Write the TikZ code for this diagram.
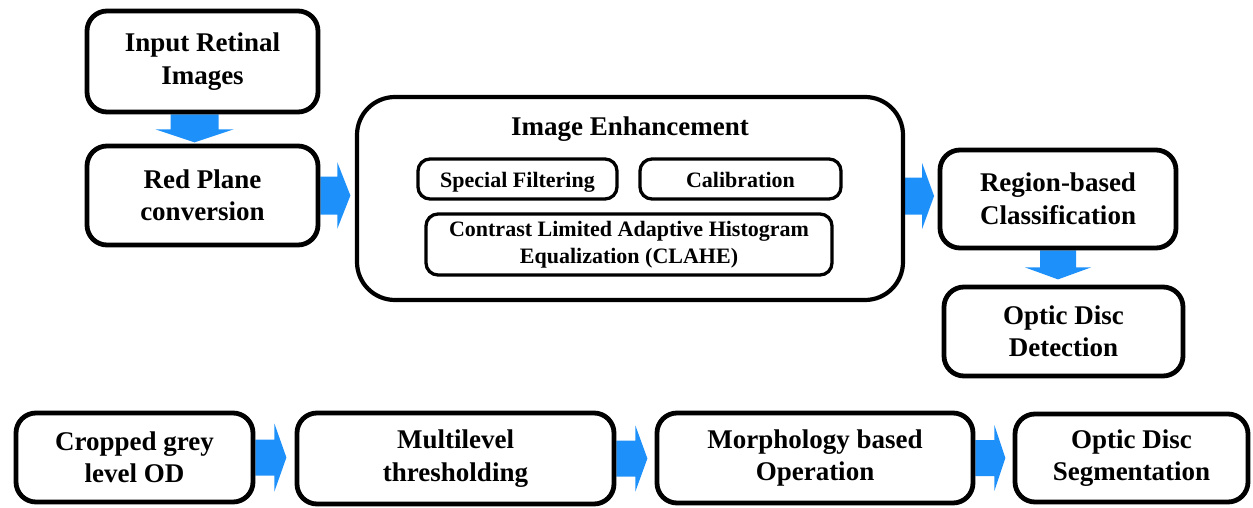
\documentclass[tikz,border=0pt]{standalone}
\usepackage{fontspec}
\setmainfont{Liberation Serif}[BoldFont={Liberation Serif Bold}]
\usetikzlibrary{backgrounds}

\definecolor{flowblue}{RGB}{30,144,250}

% horizontal block arrow: start point, shaft length, head length, shaft half-height, head half-height
\newcommand\blockright[5]{%
  \fill[flowblue] (#1) ++(0,-#4) -- ++(#2,0) -- ++(0,{#4-#5}) -- ++(#3,#5)
    -- ++(-#3,#5) -- ++(0,{#4-#5}) -- ++(-#2,0) -- cycle;}
% vertical block arrow (pointing down): start point, shaft length, head length, shaft half-width, head half-width
\newcommand\blockdown[5]{%
  \fill[flowblue] (#1) ++(-#4,0) -- ++(0,#2) -- ++({#4-#5},0) -- ++(#5,#3)
    -- ++(#5,-#3) -- ++({#4-#5},0) -- ++(0,-#2) -- cycle;}

\begin{document}
\begin{tikzpicture}[x=1pt,y=-1pt,
  stage/.style={draw=black, line width=4.8pt, rounded corners=20pt, fill=white,
    align=center, inner sep=0pt, font=\fontsize{27}{32.5}\selectfont\bfseries},
  substage/.style={draw=black, line width=3.3pt, rounded corners=12pt, fill=white,
    align=center, inner sep=0pt, font=\fontsize{22}{26.5}\selectfont\bfseries},
  oneline/.style={text height=19pt, text depth=2pt},
  group/.style={draw=black, line width=4.2pt, rounded corners=38pt, fill=white, inner sep=0pt}]

\useasboundingbox (0,0) rectangle (1253,508);

% top-left column
\node[stage, minimum width=231pt, minimum height=101pt] (input) at (202.5,61.5) {Input Retinal\\Images};
\node[stage, minimum width=231pt, minimum height=99pt] (red) at (202.5,195.5) {Red Plane\\conversion};

% enhancement group
\node[group, minimum width=546pt, minimum height=203pt] (enh) at (630,198.5) {};
\node[font=\fontsize{27}{32.5}\selectfont\bfseries] (enhtitle) at (630,129) {Image Enhancement};
\node[substage, oneline, minimum width=199pt, minimum height=40pt] (filt) at (517.5,179) {Special Filtering};
\node[substage, oneline, minimum width=201pt, minimum height=40pt] (calib) at (740.5,179) {Calibration};
\node[substage, minimum width=406pt, minimum height=61pt] (clahe) at (629,244.5) {Contrast Limited Adaptive Histogram\\Equalization (CLAHE)};

% right column
\node[stage, minimum width=236pt, minimum height=98pt] (region) at (1058,199) {Region-based\\Classification};
\node[stage, minimum width=239pt, minimum height=89pt] (detect) at (1063.5,331.5) {Optic Disc\\Detection};

% bottom row
\node[stage, minimum width=237pt, minimum height=89pt] (crop) at (134.5,457.5) {Cropped grey\\level OD};
\node[stage, minimum width=317pt, minimum height=91pt] (multi) at (455.5,458.5) {Multilevel\\thresholding};
\node[stage, minimum width=316pt, minimum height=90pt] (morph) at (815,458) {Morphology based\\Operation};
\node[stage, minimum width=233pt, minimum height=88pt] (seg) at (1131.5,458) {Optic Disc\\Segmentation};

% flow arrows, kept behind the boxes
\begin{pgfonlayer}{background}
  \path (input.south) ++(-8,0) coordinate (d1);
  \blockdown{d1}{15}{13}{24}{39}
  \blockright{red.east}{17}{13}{19}{33}
  \path (enh.east) ++(0,-2.5) coordinate (r2);
  \blockright{r2}{17}{12}{18.5}{33}
  \blockdown{region.south}{17}{12}{18}{33}
  \blockright{crop.east}{19}{12}{18}{34}
  \blockright{multi.east}{19}{12}{18}{33}
  \blockright{morph.east}{19}{11}{18}{33}
\end{pgfonlayer}

\end{tikzpicture}
\end{document}
